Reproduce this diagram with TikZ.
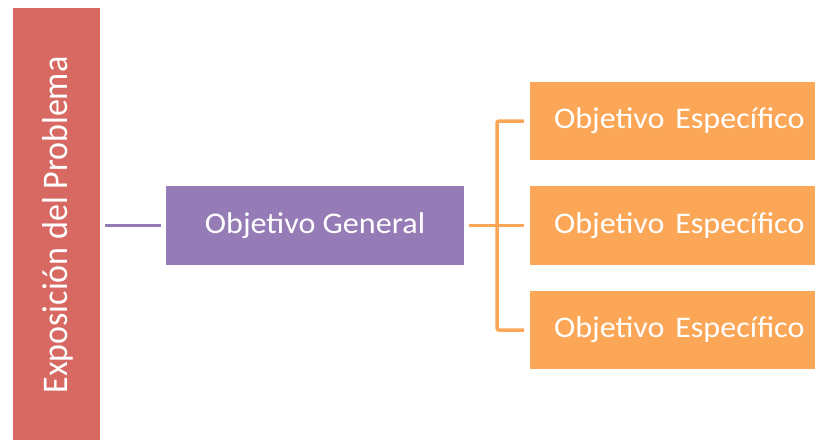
\documentclass[tikz,border=0pt]{standalone}
\usepackage{fontspec}
\setmainfont{Carlito}
\definecolor{redbox}{HTML}{D76862}
\definecolor{purplebox}{HTML}{957CB6}
\definecolor{orangebox}{HTML}{FBA757}
\newcommand{\wide}[1]{\raisebox{-2.5pt}{\scalebox{1.07}[1]{#1}}}
\begin{document}
\begin{tikzpicture}[x=1pt,y=-1pt,
  box/.style={inner sep=0pt,outer sep=0pt,text=white,font=\fontsize{30}{36}\selectfont},
  purpleline/.style={draw=purplebox,line width=3pt},
  orangeline/.style={draw=orangebox,line width=3.5pt,rounded corners=2pt}]
\useasboundingbox (0,0) rectangle (815,440);
\node[box,fill=redbox,minimum width=87pt,minimum height=432pt,anchor=north west] (prob) at (13,8) {};
\node[box,rotate=90,font=\fontsize{34}{40}\selectfont] (probt) at (58,225) {\scalebox{1}[1.06]{Exposición del Problema}};
\node[box,fill=purplebox,minimum width=298pt,minimum height=79pt,anchor=north west] (gen) at (166,186) {\wide{Objetivo General}};
\node[box,fill=orangebox,minimum width=290pt,minimum height=78pt,anchor=north west,text width=290pt,align=left] (e1) at (530,82) {\hspace*{24pt}\wide{Objetivo Específico}};
\node[box,fill=orangebox,minimum width=290pt,minimum height=79pt,anchor=north west,text width=290pt,align=left] (e2) at (530,186) {\hspace*{24pt}\wide{Objetivo Específico}};
\node[box,fill=orangebox,minimum width=290pt,minimum height=78pt,anchor=north west,text width=290pt,align=left] (e3) at (530,291) {\hspace*{24pt}\wide{Objetivo Específico}};
\coordinate (ps) at ([xshift=5pt]prob.east |- gen.west);
\coordinate (pe) at ([xshift=-5pt]gen.west);
\draw[purpleline] (ps) -- (pe);
\coordinate (gs) at ([xshift=5pt]gen.east);
\coordinate (fork) at (497,225);
\draw[orangeline] (gs) -- ([xshift=-6pt]e2.west);
\draw[orangeline] ([xshift=-6pt]e1.west) -- (fork |- e1.west) -- (fork |- e3.west) -- ([xshift=-6pt]e3.west);
\end{tikzpicture}
\end{document}
